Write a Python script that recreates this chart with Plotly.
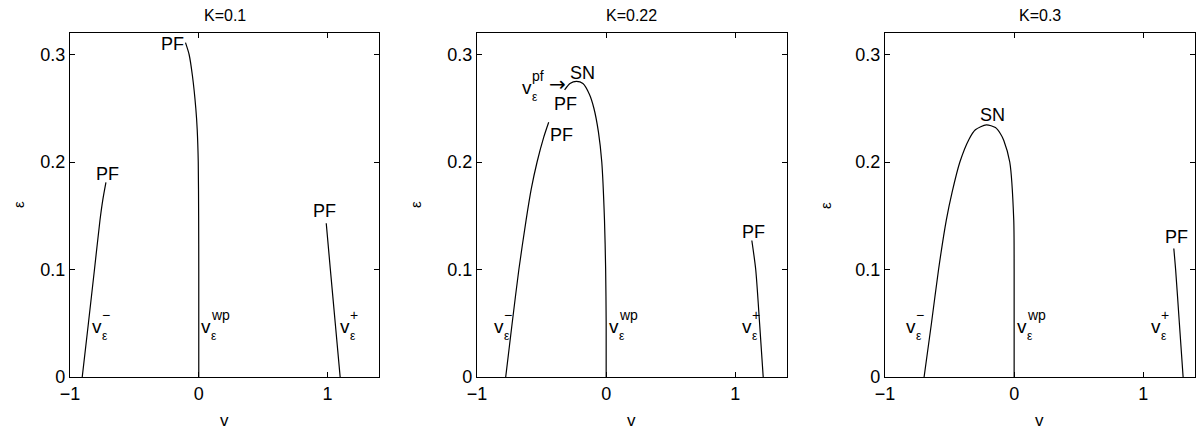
import plotly.graph_objects as go

# K values of the three panels
k_titles = ["K=0.1", "K=0.22", "K=0.3"]

# K=0.1 branches (v, eps)
k1_left_v = [-0.905, -0.857, -0.81, -0.767, -0.745, -0.721]
k1_left_eps = [0.0, 0.05, 0.1, 0.146, 0.165, 0.181]
k1_mid_v = [0.0, 0.0, -0.001, -0.004, -0.012, -0.023, -0.049, -0.075, -0.103]
k1_mid_eps = [0.0, 0.1, 0.15, 0.2, 0.23, 0.25, 0.28, 0.3, 0.311]
k1_right_v = [1.098, 1.06, 1.022, 0.99]
k1_right_eps = [0.0, 0.05, 0.1, 0.143]

# K=0.22 branches
k2_left_v = [-0.778, -0.728, -0.676, -0.62, -0.58, -0.535, -0.485, -0.445]
k2_left_eps = [0.0, 0.05, 0.1, 0.146, 0.175, 0.2, 0.2225, 0.237]
k2_mid_v = [-0.322, -0.28, -0.23, -0.18, -0.13, -0.095, -0.06, -0.034, -0.013, -0.004, 0.0, 0.0]
k2_mid_eps = [0.267, 0.273, 0.275, 0.273, 0.263, 0.25, 0.228, 0.2, 0.146, 0.1, 0.05, 0.0]
k2_right_v = [1.216, 1.188, 1.158, 1.128]
k2_right_eps = [0.0, 0.05, 0.1, 0.127]

# K=0.3 branches
k3_arc_v = [-0.697, -0.64, -0.585, -0.525, -0.48, -0.42, -0.35, -0.3, -0.215,
            -0.145, -0.106, -0.08, -0.034, -0.003, 0.0, 0.0]
k3_arc_eps = [0.0, 0.05, 0.1, 0.146, 0.172, 0.2, 0.221, 0.23, 0.2346,
              0.232, 0.2263, 0.22, 0.2, 0.146, 0.1, 0.0]
k3_right_v = [1.308, 1.279, 1.25, 1.236]
k3_right_eps = [0.0, 0.05, 0.1, 0.1195]

branches = [
    [(k1_left_v, k1_left_eps), (k1_mid_v, k1_mid_eps), (k1_right_v, k1_right_eps)],
    [(k2_left_v, k2_left_eps), (k2_mid_v, k2_mid_eps), (k2_right_v, k2_right_eps)],
    [(k3_arc_v, k3_arc_eps), (k3_right_v, k3_right_eps)],
]

# text labels: (panel, text, v, eps)
point_labels = [
    (0, "PF", -0.705, 0.189), (0, "PF", -0.202, 0.31), (0, "PF", 0.977, 0.154),
    (1, "SN", -0.187, 0.283), (1, "PF", -0.316, 0.254), (1, "PF", -0.348, 0.225),
    (1, "PF", 1.14, 0.135),
    (2, "SN", -0.165, 0.244), (2, "PF", 1.253, 0.130),
]
# arrow glyph next to v_eps^pf: (panel, v, eps)
arrow_labels = [(1, -0.38, 0.273)]
# stacked v labels: (panel, superscript, v, eps)
v_labels = [
    (0, "−", -0.791, 0.047), (0, "wp", 0.06, 0.047), (0, "+", 1.134, 0.047),
    (1, "−", -0.83, 0.047), (1, "wp", 0.062, 0.047), (1, "+", 1.094, 0.047),
    (1, "pf", -0.616, 0.2695),
    (2, "−", -0.802, 0.047), (2, "wp", 0.064, 0.047), (2, "+", 1.1, 0.047),
]

x_ticks = [-1, 0, 1]
y_ticks = [0, 0.1, 0.2, 0.3]
y_ticktext = ["0", "0.1", "0.2", "0.3"]

FONT = "Liberation Sans, Arial, sans-serif"
domains = [[0.0, 0.2747], [0.3618, 0.6373], [0.7244, 1.0]]
eps_shift = [-52, -62, -60]


def axis_name(i, kind):
    return kind if i == 0 else f"{kind}{i + 1}"


def main():
    fig = go.Figure()
    for i, panel in enumerate(branches):
        for vs, es in panel:
            fig.add_trace(go.Scatter(
                x=vs, y=es, mode="lines", line=dict(color="black", width=1.2),
                line_shape="spline", line_smoothing=0.7,
                xaxis=axis_name(i, "x"), yaxis=axis_name(i, "y"),
                showlegend=False, hoverinfo="skip"))

    annotations = []
    for i in range(3):
        xr, yr = axis_name(i, "x"), axis_name(i, "y")
        annotations.append(dict(text=k_titles[i], xref=f"{xr} domain", yref="paper",
                                x=0.5, y=1, yanchor="middle", yshift=18, showarrow=False,
                                font=dict(size=16, color="black")))
        annotations.append(dict(text="v", xref=f"{xr} domain", yref="paper",
                                x=0.5, y=0, yanchor="middle", yshift=-43, showarrow=False,
                                font=dict(size=17, color="black")))
        annotations.append(dict(text="ε", xref=f"{xr} domain", yref=f"{yr} domain",
                                x=0, y=0.5, xanchor="center", xshift=eps_shift[i],
                                textangle=-90, showarrow=False,
                                font=dict(size=15, color="black")))

    for p, txt, x, y in point_labels:
        annotations.append(dict(text=txt, x=x, y=y, xref=axis_name(p, "x"),
                                yref=axis_name(p, "y"), showarrow=False,
                                font=dict(size=18, color="black")))

    for p, x, y in arrow_labels:
        annotations.append(dict(text="→", x=x, y=y, xref=axis_name(p, "x"),
                                yref=axis_name(p, "y"), showarrow=False,
                                font=dict(size=20, color="black", family="DejaVu Sans")))

    for p, sup, x, y in v_labels:
        xr, yr = axis_name(p, "x"), axis_name(p, "y")
        annotations.append(dict(text="v", x=x, y=y, xref=xr, yref=yr, showarrow=False,
                                font=dict(size=19, color="black")))
        annotations.append(dict(text=sup, x=x, y=y, xref=xr, yref=yr, showarrow=False,
                                xanchor="left", xshift=3, yshift=11,
                                font=dict(size=14, color="black")))
        annotations.append(dict(text="ε", x=x, y=y, xref=xr, yref=yr, showarrow=False,
                                xanchor="left", xshift=3, yshift=-10,
                                font=dict(size=12, color="black")))

    layout = dict(
        width=1199, height=432,
        margin=dict(l=70, r=4, t=33, b=55),
        paper_bgcolor="white", plot_bgcolor="white",
        font=dict(family=FONT, color="black", size=18),
        annotations=annotations,
    )
    for i in range(3):
        xa = dict(domain=domains[i], range=[-1, 1.4], tickvals=x_ticks,
                  ticks="inside", ticklen=5, tickwidth=1, tickcolor="black",
                  showline=True, linecolor="black", linewidth=1.3, mirror="ticks",
                  showgrid=False, zeroline=False, anchor=axis_name(i, "y"),
                  tickfont=dict(size=18))
        ya = dict(range=[0, 0.32], tickvals=y_ticks, ticktext=y_ticktext,
                  ticks="inside", ticklen=5, tickwidth=1, tickcolor="black",
                  showline=True, linecolor="black", linewidth=1.3, mirror="ticks",
                  showgrid=False, zeroline=False, anchor=axis_name(i, "x"),
                  tickfont=dict(size=18))
        layout["xaxis" if i == 0 else f"xaxis{i + 1}"] = xa
        layout["yaxis" if i == 0 else f"yaxis{i + 1}"] = ya
    fig.update_layout(**layout)
    # drop the default 8px body margin so the page is exactly the figure
    fig.write_html("out.html", config={"displayModeBar": False},
                   post_script="document.body.style.margin='0';")


if __name__ == "__main__":
    main()
